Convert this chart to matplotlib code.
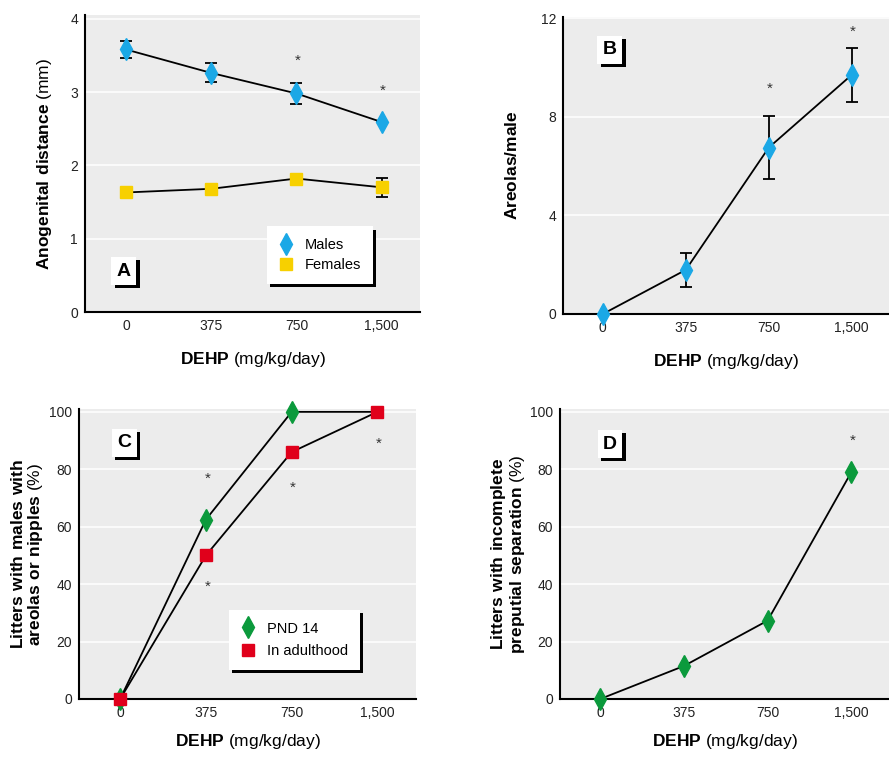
import matplotlib
matplotlib.use('Agg')
import matplotlib.pyplot as plt
import matplotlib.patheffects as pe
from matplotlib.lines import Line2D

FONT = 'Liberation Sans'
plt.rcParams['font.family'] = [FONT, 'DejaVu Sans']
plt.rcParams['mathtext.fontset'] = 'custom'
plt.rcParams['mathtext.rm'] = FONT
plt.rcParams['mathtext.bf'] = FONT + ':bold'

# data
doses = ['0', '375', '750', '1,500']
males = [3.58, 3.26, 2.98, 2.59]
males_err = [0.11, 0.13, 0.14, 0.0]
females = [1.63, 1.68, 1.82, 1.70]
females_err = [0.0, 0.0, 0.0, 0.13]
areolas = [0.0, 1.79, 6.75, 9.7]
areolas_err = [0.0, 0.7, 1.27, 1.1]
pnd14 = [0, 62.5, 100, 100]
adult = [0, 50, 86, 100]
preputial = [0, 11.5, 27.3, 79]

# asterisk positions (dose index, y)
stars_a = [(2, 3.43), (3, 3.02)]
stars_b = [(2, 9.14), (3, 11.46)]
stars_c = [(1, 76.8), (2, 104.5), (3, 106.3), (1, 39), (2, 73.4), (3, 88.8)]
stars_d = [(3, 90)]

BLUE = '#1ba8e6'
YELLOW = '#f7d000'
GREEN = '#0b9a3c'
RED = '#e0001b'
BG = '#ececec'

fig = plt.figure(figsize=(8.89, 7.6), dpi=100)
W, H = 889, 760


def make_ax(l, r, t, b):
    return fig.add_axes([l / W, (H - b) / H, (r - l) / W, (b - t) / H])


def style(ax, ylim, yticks, xpad=12):
    ax.set_facecolor(BG)
    ax.set_xlim(-0.48, 3.45)
    ax.set_ylim(*ylim)
    ax.set_xticks(range(4))
    ax.set_xticklabels(doses)
    ax.set_yticks(yticks)
    ax.grid(axis='y', color='white', lw=1.1)
    ax.set_axisbelow(True)
    for s in ['top', 'right']:
        ax.spines[s].set_visible(False)
    for s in ['left', 'bottom']:
        ax.spines[s].set_linewidth(1.5)
    ax.tick_params(length=0, labelsize=10, pad=5, colors='#222222')
    ax.set_xlabel(r'$\mathbf{DEHP}$ (mg/kg/day)', fontsize=12.5, labelpad=xpad)


shadow = [pe.SimplePatchShadow(offset=(2.4, -2.4), shadow_rgbFace='black', alpha=1), pe.Normal()]


def panel_label(ax, s, x, y):
    t = ax.text(x, y, s, transform=ax.transAxes, fontsize=14, fontweight='bold',
                ha='center', va='center',
                bbox=dict(boxstyle='square,pad=0.28', fc='white', ec='none'))
    t.get_bbox_patch().set_path_effects(shadow)


def stars(ax, pts):
    for xi, yv in pts:
        ax.annotate('*', (xi, yv), xytext=(1, 0), textcoords='offset points',
                    ha='center', va='center', fontsize=11, color='#333333')


def legend(ax, handles, labels, x, y, spacing):
    lg = ax.legend(handles, labels, loc='lower left', bbox_to_anchor=(x, y),
                   borderaxespad=0, fancybox=False, fontsize=10.5, handlelength=1.0,
                   handletextpad=0.8, borderpad=0.8, labelspacing=spacing)
    lg.get_frame().set_edgecolor('none')
    lg.get_frame().set_alpha(1)
    lg.get_frame().set_path_effects(shadow)


x = range(4)

# panel A
axA = make_ax(85, 420, 15, 312)
style(axA, (0, 4.05), [0, 1, 2, 3, 4])
axA.errorbar(x, males, yerr=males_err, color='black', lw=1.3, capsize=4, capthick=1.3,
             marker='d', ms=11, mfc=BLUE, mec=BLUE, zorder=3)
axA.errorbar(x, females, yerr=females_err, color='black', lw=1.3, capsize=4, capthick=1.3,
             marker='s', ms=8.5, mfc=YELLOW, mec=YELLOW, zorder=3)
axA.set_ylabel(r'$\mathbf{Anogenital\ distance}$ (mm)', fontsize=12.5, labelpad=12)
stars(axA, stars_a)
legend(axA, [Line2D([], [], ls='none', marker='d', ms=11, mfc=BLUE, mec=BLUE),
             Line2D([], [], ls='none', marker='s', ms=8.5, mfc=YELLOW, mec=YELLOW)],
       ['Males', 'Females'], 0.543, 0.094, 0.45)
panel_label(axA, 'A', 0.116, 0.138)

# panel B
axB = make_ax(563, 889, 17, 314)
style(axB, (0, 12.05), [0, 4, 8, 12])
axB.errorbar(x, areolas, yerr=areolas_err, color='black', lw=1.3, capsize=4, capthick=1.3,
             marker='d', ms=11, mfc=BLUE, mec=BLUE, zorder=3, clip_on=False)
axB.set_ylabel(r'$\mathbf{Areolas/male}$', fontsize=12.5, labelpad=15)
stars(axB, stars_b)
panel_label(axB, 'B', 0.144, 0.89)

# panel C
axC = make_ax(79, 416, 409, 699)
style(axC, (0, 101), [0, 20, 40, 60, 80, 100], xpad=9)
axC.plot(x, pnd14, color='black', lw=1.3, marker='d', ms=11, mfc=GREEN, mec=GREEN,
         markevery=[0, 1, 2], zorder=3, clip_on=False)
axC.plot(x, adult, color='black', lw=1.3, marker='s', ms=8, mfc=RED, mec=RED, zorder=4, clip_on=False)
axC.set_ylabel('$\\mathbf{Litters\\ with\\ males\\ with}$\n$\\mathbf{areolas\\ or\\ nipples}$ (%)',
               fontsize=12.5, labelpad=3, linespacing=1.0)
stars(axC, stars_c)
legend(axC, [Line2D([], [], ls='none', marker='d', ms=11, mfc=GREEN, mec=GREEN),
             Line2D([], [], ls='none', marker='s', ms=8, mfc=RED, mec=RED)],
       ['PND 14', 'In adulthood'], 0.445, 0.10, 0.6)
panel_label(axC, 'C', 0.134, 0.883)

# panel D
axD = make_ax(560, 889, 409, 699)
style(axD, (0, 101), [0, 20, 40, 60, 80, 100], xpad=9)
axD.plot(x, preputial, color='black', lw=1.3, marker='d', ms=11, mfc=GREEN, mec=GREEN, zorder=3, clip_on=False)
axD.set_ylabel('$\\mathbf{Litters\\ with\\ incomplete}$\n$\\mathbf{preputial\\ separation}$ (%)',
               fontsize=12.5, labelpad=2, linespacing=1.0)
stars(axD, stars_d)
panel_label(axD, 'D', 0.152, 0.879)

fig.savefig('out.png', dpi=100)
